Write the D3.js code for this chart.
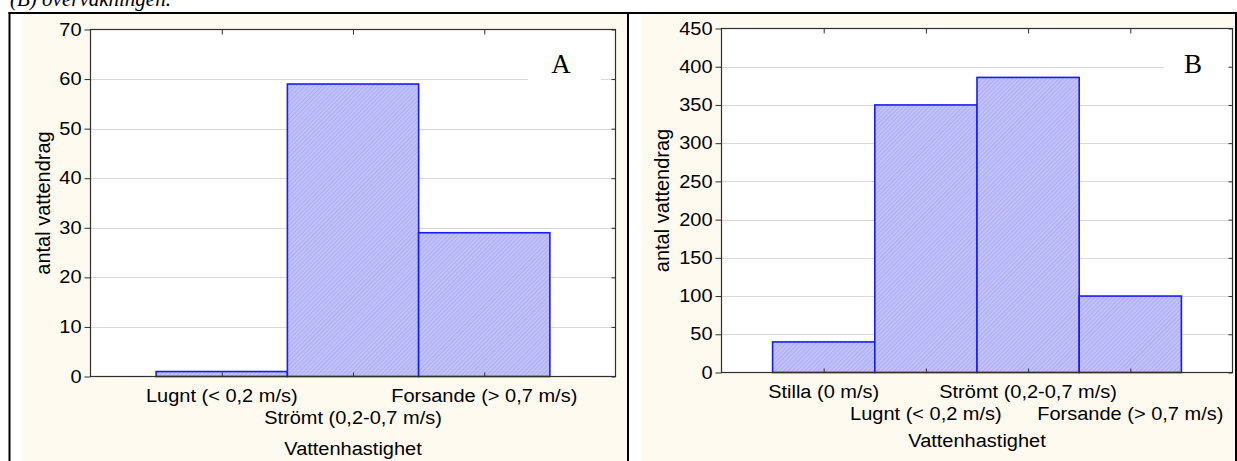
<!DOCTYPE html>
<html>
<head>
<meta charset="utf-8">
<script src="https://cdn.jsdelivr.net/npm/d3@7/dist/d3.min.js"></script>
<style>
  html, body { margin: 0; padding: 0; background: #ffffff; }
  svg { display: block; }
</style>
</head>
<body>
<svg id="chart" width="1237" height="461"></svg>
<script>
// ---- Data ----
const categoriesA = ["Lugnt (< 0,2 m/s)", "Strömt (0,2-0,7 m/s)", "Forsande (> 0,7 m/s)"];
const valuesA = [1, 59, 29];
const yTicksA = [0, 10, 20, 30, 40, 50, 60, 70];

const categoriesB = ["Stilla (0 m/s)", "Lugnt (< 0,2 m/s)", "Strömt (0,2-0,7 m/s)", "Forsande (> 0,7 m/s)"];
const valuesB = [40, 350, 386, 100];
const yTicksB = [0, 50, 100, 150, 200, 250, 300, 350, 400, 450];

const xTitle = "Vattenhastighet";
const yTitle = "antal vattendrag";
const caption = "(B) övervakningen.";

const svg = d3.select("#chart");
const FONT = "'Liberation Sans', Arial, sans-serif";
const FS = 20;       // font size
const VS = 0.88;     // vertical squash of horizontal texts

// hatch pattern
const defs = svg.append("defs");
const pat = defs.append("pattern")
  .attr("id", "hatch").attr("patternUnits", "userSpaceOnUse")
  .attr("width", 3).attr("height", 3)
  .attr("patternTransform", "rotate(45)");
pat.append("rect").attr("width", 3).attr("height", 3).attr("fill", "#c1c1fb");
pat.append("line").attr("x1", 0).attr("y1", 0).attr("x2", 0).attr("y2", 3)
  .attr("stroke", "#a0a0ee").attr("stroke-width", 1.2);

// caption (clipped at top, as in the reference)
svg.append("text").attr("x", 10).attr("y", 6)
  .attr("font-family", "'Liberation Serif', 'Times New Roman', serif")
  .attr("font-style", "italic").attr("font-size", 21).attr("fill", "#000")
  .text(caption);

function hText(parent, x, y, txt) {
  return parent.append("text")
    .attr("transform", `translate(${x},${y}) scale(1,${VS})`)
    .attr("text-anchor", "middle")
    .attr("font-family", FONT).attr("font-size", FS).attr("fill", "#000")
    .text(txt);
}

function panel(cfg) {
  const g = svg.append("g");
  // cream background
  g.append("rect").attr("x", cfg.bgX0).attr("y", 13.5)
    .attr("width", cfg.bgX1 - cfg.bgX0).attr("height", 461 - 13.5)
    .attr("fill", "#fefaef");

  const x = d3.scaleLinear().domain([0, cfg.cats.length + 1]).range([cfg.x0, cfg.x1]);
  const y = d3.scaleLinear().domain([0, d3.max(cfg.ticks)]).range([cfg.y0, cfg.y1]);

  // plot area
  g.append("rect").attr("x", cfg.x0).attr("y", cfg.y1)
    .attr("width", cfg.x1 - cfg.x0).attr("height", cfg.y0 - cfg.y1)
    .attr("fill", "#ffffff");

  // gridlines
  g.append("g").selectAll("line").data(cfg.ticks.slice(1, -1)).join("line")
    .attr("x1", cfg.x0).attr("x2", cfg.x1)
    .attr("y1", d => Math.round(y(d)) + 0.5).attr("y2", d => Math.round(y(d)) + 0.5)
    .attr("stroke", "#b0b0b0").attr("stroke-width", 1)
    .attr("stroke-dasharray", "1,1");

  // label box
  g.append("rect").attr("x", cfg.boxX0).attr("y", cfg.boxY0)
    .attr("width", cfg.boxX1 - cfg.boxX0).attr("height", cfg.boxY1 - cfg.boxY0)
    .attr("fill", "#ffffff");
  g.append("text").attr("x", cfg.letterX).attr("y", cfg.letterY)
    .attr("text-anchor", "middle")
    .attr("font-family", "'Liberation Serif', 'Times New Roman', serif")
    .attr("font-size", 27).attr("fill", "#000").text(cfg.letter);

  // bars
  g.append("g").selectAll("rect").data(cfg.vals).join("rect")
    .attr("x", (d, i) => x(i + 0.5))
    .attr("width", (d, i) => x(i + 1.5) - x(i + 0.5))
    .attr("y", d => y(d))
    .attr("height", d => y(0) - y(d))
    .attr("fill", "url(#hatch)")
    .attr("stroke", "#1a1aff").attr("stroke-width", 1.6);

  // frame
  g.append("rect").attr("x", cfg.x0).attr("y", cfg.y1)
    .attr("width", cfg.x1 - cfg.x0).attr("height", cfg.y0 - cfg.y1)
    .attr("fill", "none").attr("stroke", "#303030").attr("stroke-width", 1.2);

  // y axis (outer ticks left)
  const yAxis = d3.axisLeft(y).tickValues(cfg.ticks).tickSize(6).tickPadding(3);
  const ya = g.append("g").attr("transform", `translate(${cfg.x0},0)`).call(yAxis);
  ya.select(".domain").remove();
  ya.selectAll("line").attr("stroke", "#303030");
  ya.selectAll("text").attr("font-family", FONT).attr("font-size", FS).attr("fill", "#000")
    .attr("transform", `scale(1,${VS})`);

  // right inner ticks
  const yr = g.append("g").attr("transform", `translate(${cfg.x1},0)`)
    .call(d3.axisLeft(y).tickValues(cfg.ticks).tickSize(4).tickFormat(""));
  yr.select(".domain").remove();
  yr.selectAll("line").attr("stroke", "#303030");

  // x axes ticks inward at categories
  const catPos = cfg.cats.map((c, i) => i + 1);
  const xb = g.append("g").attr("transform", `translate(0,${cfg.y0})`)
    .call(d3.axisTop(x).tickValues(catPos).tickSize(4).tickFormat(""));
  xb.select(".domain").remove();
  xb.selectAll("line").attr("stroke", "#303030");
  const xt = g.append("g").attr("transform", `translate(0,${cfg.y1})`)
    .call(d3.axisBottom(x).tickValues(catPos).tickSize(5).tickFormat(""));
  xt.select(".domain").remove();
  xt.selectAll("line").attr("stroke", "#303030");

  // category labels staggered
  cfg.cats.forEach((c, i) => {
    hText(g, x(i + 1), i % 2 === 0 ? cfg.row1 : cfg.row2, c);
  });

  // axis titles
  hText(g, (cfg.x0 + cfg.x1) / 2, cfg.titleY, xTitle);
  g.append("text")
    .attr("transform", `translate(${cfg.yTitleX},${(cfg.y0 + cfg.y1) / 2}) rotate(-90)`)
    .attr("text-anchor", "middle")
    .attr("font-family", FONT).attr("font-size", FS).attr("fill", "#000")
    .text(yTitle);
}

panel({
  cats: categoriesA, vals: valuesA, ticks: yTicksA,
  bgX0: 23, bgX1: 627,
  x0: 90.5, x1: 615.5, y0: 376.5, y1: 29.5,
  boxX0: 528, boxX1: 601, boxY0: 40, boxY1: 88,
  letter: "A", letterX: 561, letterY: 73,
  row1: 402, row2: 424, titleY: 455, yTitleX: 50
});

panel({
  cats: categoriesB, vals: valuesB, ticks: yTicksB,
  bgX0: 642, bgX1: 1235,
  x0: 721.5, x1: 1232.5, y0: 372.5, y1: 28.5,
  boxX0: 1164, boxX1: 1231.5, boxY0: 40, boxY1: 88,
  letter: "B", letterX: 1193, letterY: 73,
  row1: 398, row2: 420, titleY: 447, yTitleX: 669
});

// table borders
const border = svg.append("g").attr("stroke", "#000").attr("stroke-width", 2);
border.append("line").attr("x1", 8.5).attr("x2", 1237).attr("y1", 13).attr("y2", 13);
border.append("line").attr("x1", 9.5).attr("x2", 9.5).attr("y1", 12).attr("y2", 461);
border.append("line").attr("x1", 628).attr("x2", 628).attr("y1", 12).attr("y2", 461);
border.append("line").attr("x1", 1236).attr("x2", 1236).attr("y1", 12).attr("y2", 461);
</script>
</body>
</html>
